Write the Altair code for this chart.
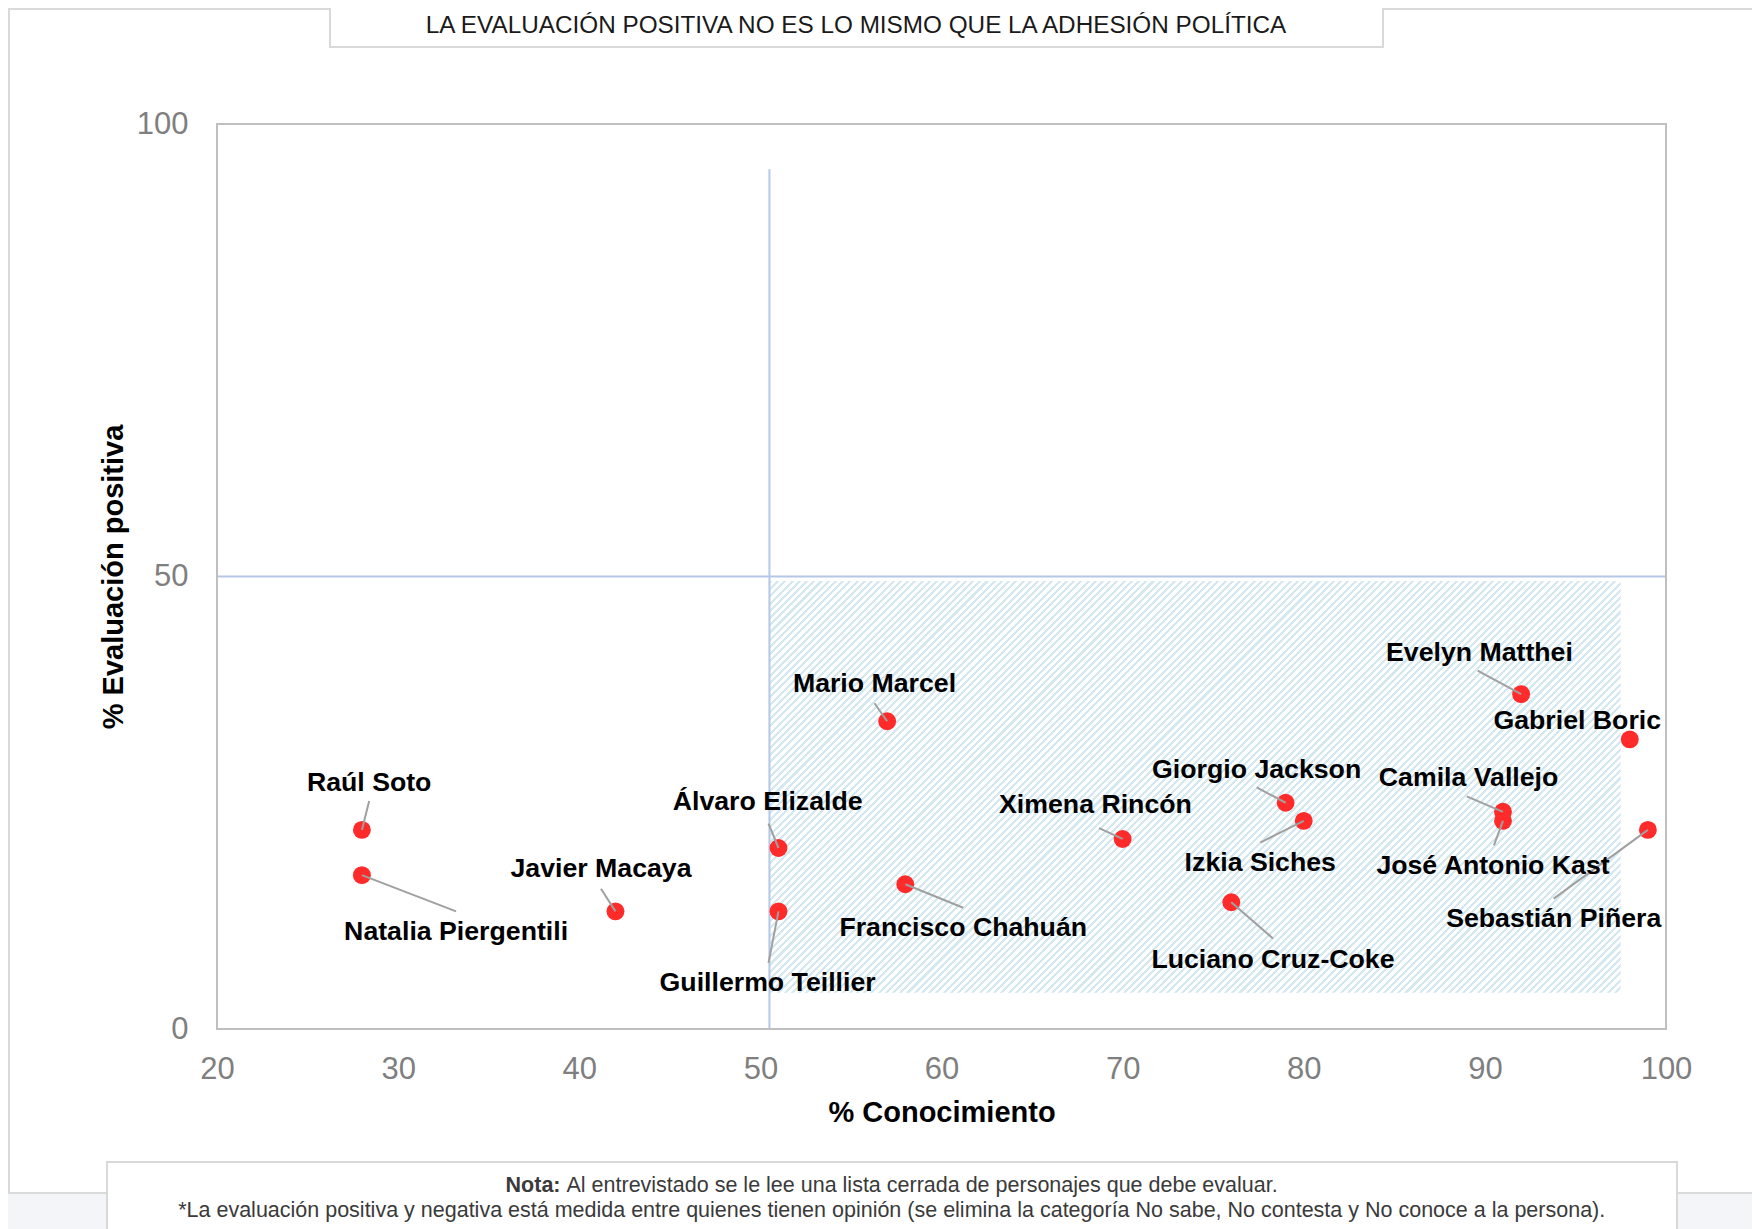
import altair as alt
import pandas as pd

FONT = "Liberation Sans"

# ---------------- data ----------------
names = ["Raúl Soto", "Natalia Piergentili", "Javier Macaya", "Álvaro Elizalde",
         "Guillermo Teillier", "Mario Marcel", "Francisco Chahuán", "Ximena Rincón",
         "Giorgio Jackson", "Izkia Siches", "Luciano Cruz-Coke", "Evelyn Matthei",
         "Gabriel Boric", "Camila Vallejo", "José Antonio Kast", "Sebastián Piñera"]
conocimiento = [28, 28, 42, 51, 51, 57, 58, 70, 79, 80, 76, 92, 98, 91, 91, 99]
evaluacion = [22, 17, 13, 20, 13, 34, 16, 21, 25, 23, 14, 37, 32, 24, 23, 22]
label_x = [28.4, 33.2, 41.2, 50.4, 50.4, 56.3, 61.2, 68.5, 77.4, 77.6, 78.3, 89.7, 95.1, 89.1, 90.45, 93.8]
label_y = [27.3, 10.9, 17.9, 25.2, 5.2, 38.3, 11.3, 24.9, 28.8, 18.5, 7.8, 41.7, 34.25, 27.9, 18.2, 12.3]
leader_x = [28.4, 33.2, 41.2, 50.45, 50.45, 56.3, 61.2, 68.7, 77.4, 77.6, 78.3, 89.6, None, 89.0, 90.5, 93.8]
leader_y = [25.2, 13.0, 15.5, 22.7, 7.3, 36.0, 13.4, 22.2, 26.7, 20.6, 10.0, 39.6, None, 25.7, 20.3, 14.4]

x_domain = [20, 100]
y_domain = [0, 100]
x_ticks = [20, 30, 40, 50, 60, 70, 80, 90, 100]
y_ticks = [0, 50, 100]
zone_x = [50.5, 97.5]
zone_y = [4, 49.5]
h_line_y = [50]
v_line_x = [50.5]
v_line_y = [0, 95]

TITLE = "LA EVALUACIÓN POSITIVA NO ES LO MISMO QUE LA ADHESIÓN POLÍTICA"
X_TITLE = "% Conocimiento"
Y_TITLE = "% Evaluación positiva"
NOTE_BOLD = "Nota:"
NOTE_1 = "Al entrevistado se le lee una lista cerrada de personajes que debe evaluar."
NOTE_2 = ("*La evaluación positiva y negativa está medida entre quienes tienen opinión "
          "(se elimina la categoría No sabe, No contesta y No conoce a la persona).")

# ---------------- layout / style ----------------
W, H = 1449, 905
PAD = {"left": 209, "top": 116, "right": 86, "bottom": 200}

# diagonal hatch as a hard-stop linear gradient (stripes at 45 degrees)
zw = (zone_x[1] - zone_x[0]) / (x_domain[1] - x_domain[0]) * W
zh = (zone_y[1] - zone_y[0]) / (y_domain[1] - y_domain[0]) * H
r = zh / zw
k = (1 + r) / (1 + r * r)
N_STRIPES = 175
STRIPE = "#d3e8f0"
stops = []
for i in range(N_STRIPES):
    a = i / N_STRIPES
    b = (i + 0.42) / N_STRIPES
    c = (i + 1) / N_STRIPES
    stops += [{"offset": a, "color": STRIPE}, {"offset": b, "color": STRIPE},
              {"offset": b, "color": "#ffffff"}, {"offset": c, "color": "#ffffff"}]
hatch = {"gradient": "linear", "x1": 0, "y1": 0, "x2": k, "y2": k * r, "stops": stops}

sx = alt.Scale(domain=x_domain, nice=False, zero=False)
sy = alt.Scale(domain=y_domain, nice=False, zero=False)
ax_x = alt.Axis(values=x_ticks, grid=False, domain=False, ticks=False, tickSize=0,
                labelFont=FONT, labelFontSize=31, labelColor="#7f7f7f", labelPadding=25,
                labelFlush=False, labelOverlap=False,
                titleFont=FONT, titleFontSize=29, titleFontWeight="bold", titleColor="#000000",
                titleY=83, titleBaseline="middle", zindex=1)
ax_y = alt.Axis(values=y_ticks, grid=False, domain=False, ticks=False, tickSize=0,
                labelFont=FONT, labelFontSize=31, labelColor="#7f7f7f", labelPadding=29,
                labelFlush=False, labelOverlap=False,
                titleFont=FONT, titleFontSize=29, titleFontWeight="bold", titleColor="#000000",
                titleX=-104, titleBaseline="middle", titleAlign="center", zindex=1)


def X(f):
    return alt.X(f, type="quantitative", scale=sx, axis=ax_x, title=X_TITLE)


def Y(f):
    return alt.Y(f, type="quantitative", scale=sy, axis=ax_y, title=Y_TITLE)


one = pd.DataFrame({"k": [0]})
df = pd.DataFrame({"name": names, "x": conocimiento, "y": evaluacion,
                   "lx": label_x, "ly": label_y, "ex": leader_x, "ey": leader_y})

# ---------------- decorations (page frame, title, note) ----------------
bottom_strip = alt.Chart(one).mark_rect(fill="#f4f5f9").encode(
    x=alt.value(-PAD["left"]), x2=alt.value(1700), y=alt.value(1070), y2=alt.value(1130))
panel = alt.Chart(one).mark_rect(filled=False, stroke="#dadada", strokeWidth=2).encode(
    x=alt.value(-208), x2=alt.value(1700), y=alt.value(-115), y2=alt.value(1069))
title_box = alt.Chart(one).mark_rect(fill="white", stroke="#d9d9d9", strokeWidth=2).encode(
    x=alt.value(113), x2=alt.value(1166), y=alt.value(-122), y2=alt.value(-77))
title_txt = alt.Chart(one).mark_text(text=TITLE, font=FONT, fontSize=24.3, color="#1a1a1a",
                                     align="center", baseline="middle").encode(
    x=alt.value(639), y=alt.value(-97.6))
note_box = alt.Chart(one).mark_rect(fill="white", stroke="#d9d9d9", strokeWidth=2).encode(
    x=alt.value(-110), x2=alt.value(1460), y=alt.value(1038), y2=alt.value(1130))
note_b = alt.Chart(one).mark_text(text=NOTE_BOLD, font=FONT, fontSize=21.5, fontWeight="bold",
                                  color="#3a3a3a", align="right", baseline="middle").encode(
    x=alt.value(343.5), y=alt.value(1062))
note_1 = alt.Chart(one).mark_text(text=NOTE_1, font=FONT, fontSize=21.5, color="#3a3a3a",
                                  align="left", baseline="middle").encode(
    x=alt.value(349.5), y=alt.value(1062))
note_2 = alt.Chart(one).mark_text(text=NOTE_2, font=FONT, fontSize=21.5, color="#3a3a3a",
                                  align="center", baseline="middle").encode(
    x=alt.value(674.7), y=alt.value(1087))

# ---------------- plot content ----------------
zone = alt.Chart(pd.DataFrame({"x0": [zone_x[0]], "x1": [zone_x[1]],
                               "y0": [zone_y[0]], "y1": [zone_y[1]]})).mark_rect(
    fill=hatch).encode(x=X("x0"), x2="x1", y=Y("y0"), y2="y1")
h_line = alt.Chart(pd.DataFrame({"x0": [x_domain[0]], "x1": [x_domain[1]], "y": h_line_y})).mark_rule(
    color="#b4c7e7", strokeWidth=2).encode(x=X("x0"), x2="x1", y=Y("y"))
v_line = alt.Chart(pd.DataFrame({"x": v_line_x, "y0": [v_line_y[0]], "y1": [v_line_y[1]]})).mark_rule(
    color="#b4c7e7", strokeWidth=2).encode(x=X("x"), y=Y("y0"), y2="y1")
frame = alt.Chart(one).mark_rect(filled=False, stroke="#bfbfbf", strokeWidth=2).encode(
    x=alt.value(0), x2=alt.value(W), y=alt.value(0), y2=alt.value(H))
points = alt.Chart(df).mark_circle(size=320, color="#ff2a2a", opacity=1).encode(
    x=X("x"), y=Y("y"))
leaders = alt.Chart(df).transform_filter("isValid(datum.ex)").mark_rule(
    color="#a0a0a0", strokeWidth=2).encode(x=X("x"), y=Y("y"), x2="ex", y2="ey")
labels = alt.Chart(df).mark_text(font=FONT, fontSize=26.7, fontWeight="bold", color="#000000",
                                 align="center", baseline="middle", dy=1.5).encode(
    x=X("lx"), y=Y("ly"), text="name:N")

chart = alt.layer(
    bottom_strip, panel, note_box, note_b, note_1, note_2,
    zone, h_line, v_line, frame, points, leaders, labels,
    title_box, title_txt,
).properties(
    width=W, height=H, padding=PAD, autosize=alt.AutoSizeParams(type="none")
).configure(background="white").configure_view(strokeWidth=0)

chart.save("out.html", embed_options={"renderer": "svg", "actions": False})
